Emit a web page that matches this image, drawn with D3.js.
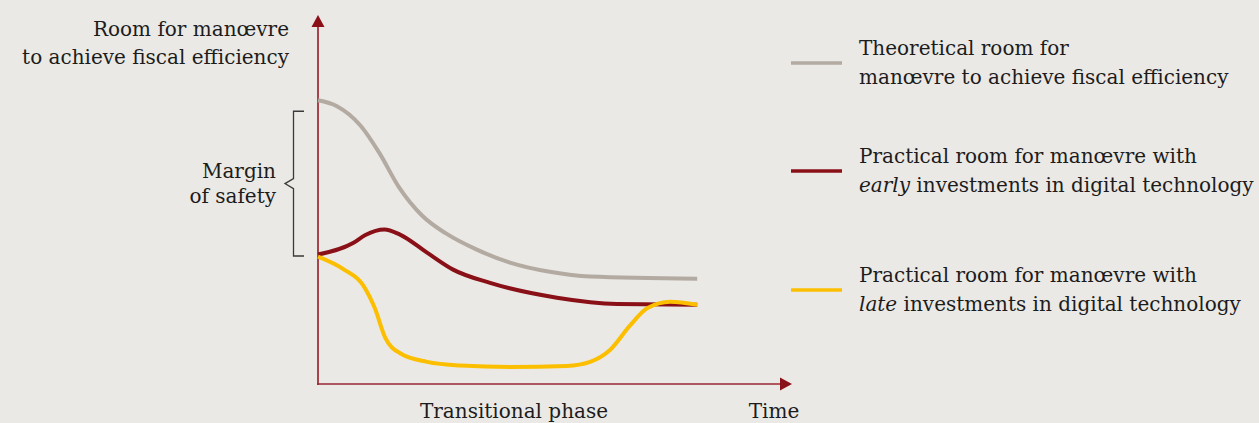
<!DOCTYPE html>
<html>
<head>
<meta charset="utf-8">
<script src="https://cdn.jsdelivr.net/npm/d3@7"></script>
<style>
  html, body { margin: 0; padding: 0; background: #ebe9e5; }
  svg { display: block; }
  text { font-family: "DejaVu Serif", "Liberation Serif", serif; fill: #1c1c1c; }
</style>
</head>
<body>
<svg id="chart" width="1259" height="423"></svg>
<script>
// Time runs 0..10 along the horizontal axis; room for manoeuvre 0..100 vertically.
const theoreticalT = [0, 0.4, 0.9, 1.3, 1.7, 2.2, 2.7, 3.35, 4.05, 4.89, 5.74, 8.0];
const theoreticalV = [76.9, 75.3, 70.0, 62.5, 53.5, 45.6, 40.8, 36.4, 32.9, 30.4, 29.1, 28.5];

const earlyT = [0, 0.74, 1.0, 1.4, 1.73, 2.30, 2.85, 3.63, 5.04, 6.31, 8.0];
const earlyV = [35.1, 38.2, 40.4, 41.9, 40.5, 35.6, 31.0, 27.4, 23.4, 21.7, 21.5];

const lateT = [0, 0.55, 0.95, 1.2, 1.42, 1.75, 2.3, 3.0, 4.05, 5.25, 5.74, 6.16, 6.58, 6.95, 7.43, 8.0];
const lateV = [34.5, 31.0, 26.8, 20.5, 12.5, 8.2, 6.0, 5.0, 4.6, 4.9, 6.0, 9.2, 15.8, 20.6, 22.3, 21.5];

const seriesNames = ["theoretical", "early", "late"];
const seriesColors = ["#b3aaa2", "#8a1018", "#fcbf00"];

const yTitle = ["Room for manœvre", "to achieve fiscal efficiency"];
const marginLabel = ["Margin", "of safety"];
const phaseLabel = "Transitional phase";
const timeLabel = "Time";

// Legend entries: each line is a list of parts; {i: ...} parts are set in italics
const legendLines = [
  [["Theoretical room for"], ["manœvre to achieve fiscal efficiency"]],
  [["Practical room for manœvre with"], [{ i: "early" }, " investments in digital technology"]],
  [["Practical room for manœvre with"], [{ i: "late" }, " investments in digital technology"]]
];

const svg = d3.select("#chart");

const x = d3.scaleLinear().domain([0, 10]).range([318, 792]);
const y = d3.scaleLinear().domain([0, 100]).range([384, 15]);

const axisColor = "#9b2632";
const fontSize = "20px";

// Axes with arrowheads
const g = svg.append("g");
g.append("line")
  .attr("x1", x(0)).attr("x2", x(0))
  .attr("y1", y(0) + 1).attr("y2", y(100) + 8)
  .attr("stroke", axisColor).attr("stroke-width", 1.7);
g.append("line")
  .attr("x1", x(0) - 0.8).attr("x2", x(10) - 8)
  .attr("y1", y(0)).attr("y2", y(0))
  .attr("stroke", axisColor).attr("stroke-width", 1.7);
g.append("path")
  .attr("d", `M${x(0)},${y(100)} L${x(0) + 6.5},${y(100) + 12} L${x(0) - 6.5},${y(100) + 12} Z`)
  .attr("fill", "#8a1018");
g.append("path")
  .attr("d", `M${x(10)},${y(0)} L${x(10) - 12},${y(0) - 6.5} L${x(10) - 12},${y(0) + 6.5} Z`)
  .attr("fill", "#8a1018");

// Curves
const line = d3.line()
  .x(d => x(d[0]))
  .y(d => y(d[1]))
  .curve(d3.curveMonotoneX);

const seriesData = [
  d3.zip(theoreticalT, theoreticalV),
  d3.zip(earlyT, earlyV),
  d3.zip(lateT, lateV)
];

svg.append("g").selectAll("path")
  .data(seriesData)
  .join("path")
  .attr("class", (d, i) => seriesNames[i])
  .attr("d", line)
  .attr("fill", "none")
  .attr("stroke", (d, i) => seriesColors[i])
  .attr("stroke-width", 4)
  .attr("stroke-linejoin", "round");

// Y-axis title
const yt = svg.append("text").attr("text-anchor", "end").style("font-size", fontSize);
yTitle.forEach((t, i) => {
  yt.append("tspan").attr("x", 289).attr("y", 36 + i * 28).text(t);
});

// Margin-of-safety brace between the theoretical and practical starting levels
const bTop = y(theoreticalV[0]) + 11;
const bBot = y(earlyV[0]) + 1.5;
const bMid = (bTop + bBot) / 2;
svg.append("path")
  .attr("d", `M304,${bTop} H293.5 V${bMid - 5} L285,${bMid} L293.5,${bMid + 5} V${bBot} H304`)
  .attr("fill", "none")
  .attr("stroke", "#3a3a3a")
  .attr("stroke-width", 1.3);

const mt = svg.append("text").attr("text-anchor", "end").style("font-size", fontSize);
marginLabel.forEach((t, i) => {
  mt.append("tspan").attr("x", 276).attr("y", 178 + i * 25).text(t);
});

// X-axis labels
svg.append("text")
  .attr("x", 514).attr("y", 418)
  .attr("text-anchor", "middle")
  .style("font-size", fontSize)
  .text(phaseLabel);
svg.append("text")
  .attr("x", 774).attr("y", 418)
  .attr("text-anchor", "middle")
  .style("font-size", fontSize)
  .text(timeLabel);

// Legend
const legendY = [63, 171, 290];
const legend = svg.append("g");
legendLines.forEach((lines, i) => {
  legend.append("line")
    .attr("x1", 791).attr("x2", 842)
    .attr("y1", legendY[i]).attr("y2", legendY[i])
    .attr("stroke", seriesColors[i])
    .attr("stroke-width", 3.5);
  const t = legend.append("text").style("font-size", fontSize);
  lines.forEach((parts, j) => {
    parts.forEach((p, k) => {
      const ts = t.append("tspan");
      if (k === 0) ts.attr("x", 859).attr("y", legendY[i] - 8 + j * 29);
      if (typeof p === "object") ts.style("font-style", "italic").text(p.i);
      else ts.text(p);
    });
  });
});
</script>
</body>
</html>
